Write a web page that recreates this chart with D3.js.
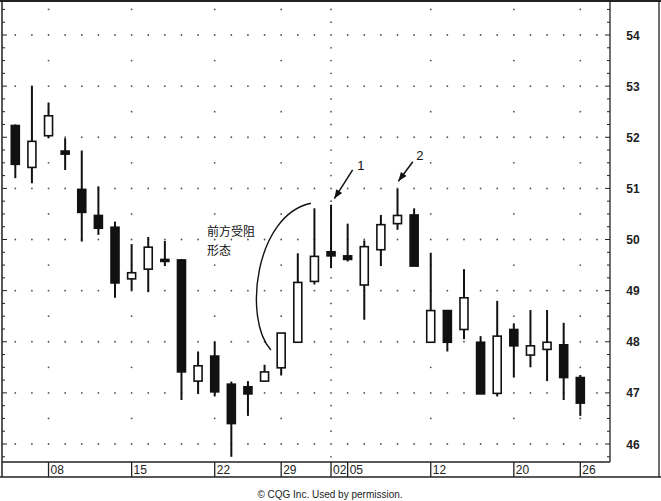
<!DOCTYPE html>
<html><head><meta charset="utf-8">
<script src="https://cdn.jsdelivr.net/npm/d3@7"></script>
<style>body{margin:0;background:#fff}svg{display:block}</style>
</head><body>
<script>
// ---- data ----
const dates = ["12-04","12-05","12-08","12-09","12-10","12-11","12-12","12-15","12-16","12-17","12-18","12-19",
  "12-22","12-23","12-24","12-26","12-29","12-30","12-31","01-02","01-05","01-06","01-07","01-08","01-09",
  "01-12","01-13","01-14","01-15","01-16","01-20","01-21","01-22","01-23","01-26"];
const open  = [52.23,51.41,52.03,51.73,50.98,50.47,50.24,49.23,49.42,49.61,49.60,47.23,47.72,47.17,47.12,47.23,47.49,47.99,49.18,49.76,49.68,49.11,49.80,50.31,50.48,47.99,48.61,48.24,47.99,46.99,48.24,47.74,47.85,47.94,47.30];
const high  = [52.25,53.00,52.68,51.98,51.74,51.04,50.35,49.91,50.05,49.97,49.62,47.81,48.00,47.22,47.23,47.55,48.17,49.73,50.61,50.68,50.31,49.98,50.48,50.99,50.61,49.74,48.61,49.42,48.11,48.80,48.36,48.62,48.62,48.37,47.35];
const low   = [51.20,51.10,51.98,51.36,49.96,50.09,48.86,49.00,48.97,49.48,46.86,46.98,46.93,45.75,46.55,47.23,47.34,47.99,49.12,49.44,49.57,48.43,49.48,50.19,49.48,47.99,47.81,48.05,46.98,46.93,47.30,47.50,47.23,46.86,46.55];
const close = [51.47,51.92,52.42,51.67,50.53,50.22,49.15,49.35,49.85,49.59,47.41,47.53,47.02,46.40,46.98,47.41,48.17,49.16,49.67,49.68,49.61,49.86,50.29,50.47,49.48,48.61,47.99,48.86,46.98,48.11,47.92,47.92,47.99,47.30,46.80];
const tickDates  = ["12-08","12-15","12-22","12-29","01-02","01-05","01-12","01-20","01-26"];
const tickLabels = ["08","15","22","29","02","05","12","20","26"];
const priceTicks = [46,47,48,49,50,51,52,53,54];
const weekDotDates = ["12-08","12-15","12-22","12-29","01-12","01-20","01-26"];
const monthDotDate = "01-02";
const annotationText = ["前方受阻","形态"];
const arrowLabels = ["1","2"];
const copyright = "© CQG Inc. Used by permission.";

// ---- layout ----
const W = 661, H = 501;
const plotL = 2, plotR = 610, plotT = 1, plotB = 462, axisB = 477, outerR = 659;
const svg = d3.select("body").append("svg").attr("width", W).attr("height", H);

const x = d3.scaleLinear().domain([0, dates.length - 1]).range([15.3, 580.3]);
const y = d3.scaleLinear().domain([46, 54]).range([444, 35]);
const xi = d => x(dates.indexOf(d));

// grid dots
const dotG = svg.append("g").attr("fill", "#555");
const nSlots = dates.length + 1;
priceTicks.forEach(p => {
  d3.range(nSlots).forEach(i => dotG.append("circle").attr("cx", x(i)).attr("cy", y(p)).attr("r", 0.9));
});
const halfLevels = d3.range(46.5, 54.6, 1);
weekDotDates.forEach(d => halfLevels.forEach(p =>
  dotG.append("circle").attr("cx", xi(d)).attr("cy", y(p)).attr("r", 0.9)));
d3.range(45.75, 54.6, 0.25).forEach(p => {
  if (Math.abs(p - Math.round(p)) < 1e-6) return;
  if (y(p) > plotB - 2 && p < 45.8) { /* keep */ }
  dotG.append("circle").attr("cx", xi(monthDotDate)).attr("cy", y(p)).attr("r", 0.9);
});

// frame
const frame = svg.append("g").attr("stroke", "#222").attr("fill", "none");
frame.append("line").attr("x1", 0).attr("x2", W).attr("y1", 1).attr("y2", 1).attr("stroke-width", 2);
frame.append("line").attr("x1", plotL).attr("x2", plotL).attr("y1", 0).attr("y2", axisB).attr("stroke-width", 1.5);
frame.append("line").attr("x1", plotR).attr("x2", plotR).attr("y1", 0).attr("y2", plotB).attr("stroke-width", 1.3);
frame.append("line").attr("x1", outerR).attr("x2", outerR).attr("y1", 0).attr("y2", axisB).attr("stroke-width", 1.3);
frame.append("line").attr("x1", plotL).attr("x2", plotR).attr("y1", plotB).attr("y2", plotB).attr("stroke-width", 1.3);
frame.append("line").attr("x1", 0).attr("x2", W).attr("y1", axisB).attr("y2", axisB).attr("stroke-width", 1.3);

// right axis (ticks pointing into plot) and left edge ticks
const minor = d3.range(45.75, 54.6, 0.25);
const axG = svg.append("g").attr("stroke", "#222").attr("stroke-width", 1);
minor.forEach(p => {
  const major = Math.abs(p - Math.round(p)) < 1e-6;
  const len = major ? 5 : 3;
  axG.append("line").attr("x1", plotR - len).attr("x2", plotR).attr("y1", y(p)).attr("y2", y(p));
  axG.append("line").attr("x1", plotL).attr("x2", plotL + len).attr("y1", y(p)).attr("y2", y(p));
});
svg.append("g").selectAll("text").data(priceTicks).join("text")
  .attr("x", 633).attr("y", d => y(d) + 4.5).attr("text-anchor", "middle")
  .attr("font-family", "Liberation Sans, Arial, sans-serif").attr("font-size", 12).attr("font-weight", "bold")
  .attr("fill", "#222").text(d => d);

// date axis
const dG = svg.append("g");
tickDates.forEach((d, k) => {
  dG.append("line").attr("x1", xi(d)).attr("x2", xi(d)).attr("y1", plotB).attr("y2", axisB)
    .attr("stroke", "#222").attr("stroke-width", 1.3);
  dG.append("text").attr("x", xi(d) + 2).attr("y", 473.5)
    .attr("font-family", "Liberation Sans, Arial, sans-serif").attr("font-size", 12)
    .attr("fill", "#222").text(tickLabels[k]);
});

// candles
const data = dates.map((d, i) => ({ d, i, o: open[i], h: high[i], l: low[i], c: close[i] }));
const cG = svg.append("g");
const bw = 8;
cG.selectAll("line.wick").data(data).join("line").attr("class", "wick")
  .attr("x1", d => x(d.i)).attr("x2", d => x(d.i))
  .attr("y1", d => y(d.h)).attr("y2", d => y(d.l))
  .attr("stroke", "#111").attr("stroke-width", 2);
cG.selectAll("rect").data(data).join("rect")
  .attr("x", d => x(d.i) - bw / 2)
  .attr("y", d => y(Math.max(d.o, d.c)))
  .attr("width", bw)
  .attr("height", d => Math.max(2, Math.abs(y(d.o) - y(d.c))))
  .attr("fill", d => d.c >= d.o ? "#fff" : "#111")
  .attr("stroke", "#111").attr("stroke-width", 1.6);

// annotations
const P = (i, p) => [x(i), y(p)];
const aG = svg.append("g");
const a0 = P(17.79, 50.71), a1 = P(14.42, 50.48), a2 = P(13.7, 48.43), a3 = P(15.38, 47.84);
aG.append("path")
  .attr("d", `M${a0[0]},${a0[1]} C${a1[0]},${a1[1]} ${a2[0]},${a2[1]} ${a3[0]},${a3[1]}`)
  .attr("fill", "none").attr("stroke", "#111").attr("stroke-width", 1.4);
const tpos = [P(11.53, 50.06), P(11.53, 49.69)];
annotationText.forEach((t, k) => aG.append("text").attr("x", tpos[k][0]).attr("y", tpos[k][1])
  .attr("font-family", "Noto Sans CJK SC, sans-serif").attr("font-size", 12).attr("fill", "#111").text(t));

function arrow(from, to) {
  aG.append("line").attr("x1", from[0]).attr("y1", from[1]).attr("x2", to[0]).attr("y2", to[1])
    .attr("stroke", "#111").attr("stroke-width", 1.5);
  const ang = Math.atan2(to[1] - from[1], to[0] - from[0]);
  const L = 9, Wd = 3.5;
  const bx = to[0] - L * Math.cos(ang), by = to[1] - L * Math.sin(ang);
  const px = -Math.sin(ang) * Wd, py = Math.cos(ang) * Wd;
  aG.append("path").attr("d", `M${to[0]},${to[1]} L${bx + px},${by + py} L${bx - px},${by - py} Z`).attr("fill", "#111");
}
arrow(P(20.3, 51.36), P(19.2, 50.8));
arrow(P(23.92, 51.52), P(23.05, 51.14));
const lpos = [P(20.8, 51.36), P(24.35, 51.55)];
arrowLabels.forEach((t, k) => aG.append("text").attr("x", lpos[k][0]).attr("y", lpos[k][1])
  .attr("text-anchor", "middle").attr("font-family", "Liberation Sans, Arial, sans-serif")
  .attr("font-size", 13).attr("fill", "#111").text(t));

svg.append("text").attr("x", 330).attr("y", 498).attr("text-anchor", "middle")
  .attr("font-family", "Liberation Sans, Arial, sans-serif").attr("font-size", 10).attr("fill", "#222")
  .text(copyright);
</script>
</body></html>
